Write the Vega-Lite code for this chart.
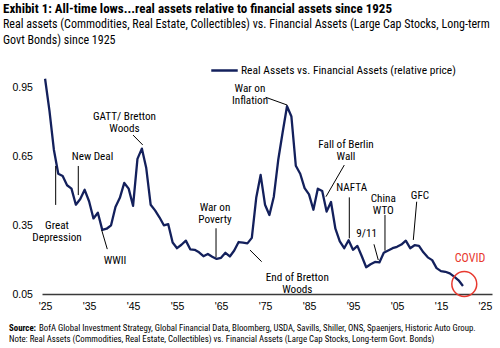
{
  "$schema": "https://vega.github.io/schema/vega-lite/v6.json",
  "width": 450,
  "height": 229,
  "autosize": {"type": "none"},
  "padding": {"left": 42, "top": 65, "right": 8, "bottom": 54},
  "background": "white",
  "config": {
    "view": {"stroke": null},
    "font": "Roboto Condensed, Liberation Sans, sans-serif"
  },
  "title": {
    "text": "Exhibit 1: All-time lows...real assets relative to financial assets since 1925",
    "subtitle": ["Real assets (Commodities, Real Estate, Collectibles) vs. Financial Assets (Large Cap Stocks, Long-term", "Govt Bonds) since 1925"],
    "anchor": "start",
    "frame": "group",
    "dx": -39,
    "offset": 10,
    "font": "Roboto Condensed, Liberation Sans, sans-serif",
    "fontSize": 13,
    "fontWeight": "bold",
    "color": "#000000",
    "subtitleFont": "Roboto Condensed, Liberation Sans, sans-serif",
    "subtitleFontSize": 12,
    "subtitleFontWeight": "normal",
    "subtitleColor": "#000000",
    "subtitleLineHeight": 16,
    "subtitlePadding": 3
  },
  "datasets": {
    "series": [
      {"year": 1925, "value": 0.99}, {"year": 1926, "value": 0.85}, {"year": 1927, "value": 0.68},
      {"year": 1928, "value": 0.575}, {"year": 1929, "value": 0.565}, {"year": 1930, "value": 0.525},
      {"year": 1931, "value": 0.51}, {"year": 1932, "value": 0.44}, {"year": 1933, "value": 0.465},
      {"year": 1934, "value": 0.505}, {"year": 1935, "value": 0.455}, {"year": 1936, "value": 0.38},
      {"year": 1937, "value": 0.405}, {"year": 1938, "value": 0.33}, {"year": 1939, "value": 0.335},
      {"year": 1940, "value": 0.35}, {"year": 1941, "value": 0.43}, {"year": 1942, "value": 0.47},
      {"year": 1943, "value": 0.535}, {"year": 1944, "value": 0.51}, {"year": 1945, "value": 0.435},
      {"year": 1946, "value": 0.64}, {"year": 1947, "value": 0.685}, {"year": 1948, "value": 0.6},
      {"year": 1949, "value": 0.44}, {"year": 1950, "value": 0.415}, {"year": 1951, "value": 0.385},
      {"year": 1952, "value": 0.35}, {"year": 1953, "value": 0.355}, {"year": 1954, "value": 0.275},
      {"year": 1955, "value": 0.25}, {"year": 1956, "value": 0.265}, {"year": 1957, "value": 0.283},
      {"year": 1958, "value": 0.245}, {"year": 1959, "value": 0.243}, {"year": 1960, "value": 0.232},
      {"year": 1961, "value": 0.215}, {"year": 1962, "value": 0.225}, {"year": 1963, "value": 0.213},
      {"year": 1964, "value": 0.203}, {"year": 1965, "value": 0.208}, {"year": 1966, "value": 0.23},
      {"year": 1967, "value": 0.214}, {"year": 1968, "value": 0.24}, {"year": 1969, "value": 0.277},
      {"year": 1970, "value": 0.274}, {"year": 1971, "value": 0.271}, {"year": 1972, "value": 0.295},
      {"year": 1973, "value": 0.47}, {"year": 1974, "value": 0.57}, {"year": 1975, "value": 0.44},
      {"year": 1976, "value": 0.395}, {"year": 1977, "value": 0.475}, {"year": 1978, "value": 0.635},
      {"year": 1979, "value": 0.755}, {"year": 1980, "value": 0.87}, {"year": 1981, "value": 0.825},
      {"year": 1982, "value": 0.61}, {"year": 1983, "value": 0.575}, {"year": 1984, "value": 0.512},
      {"year": 1985, "value": 0.485}, {"year": 1986, "value": 0.418}, {"year": 1987, "value": 0.51},
      {"year": 1988, "value": 0.5}, {"year": 1989, "value": 0.41}, {"year": 1990, "value": 0.452},
      {"year": 1991, "value": 0.335}, {"year": 1992, "value": 0.28}, {"year": 1993, "value": 0.25},
      {"year": 1994, "value": 0.285}, {"year": 1995, "value": 0.243}, {"year": 1996, "value": 0.26},
      {"year": 1997, "value": 0.215}, {"year": 1998, "value": 0.167}, {"year": 1999, "value": 0.18},
      {"year": 2000, "value": 0.19}, {"year": 2001, "value": 0.188}, {"year": 2002, "value": 0.23},
      {"year": 2003, "value": 0.24}, {"year": 2004, "value": 0.25}, {"year": 2005, "value": 0.256},
      {"year": 2006, "value": 0.266}, {"year": 2007, "value": 0.283}, {"year": 2008, "value": 0.25},
      {"year": 2009, "value": 0.263}, {"year": 2010, "value": 0.26}, {"year": 2011, "value": 0.232},
      {"year": 2012, "value": 0.21}, {"year": 2013, "value": 0.198}, {"year": 2014, "value": 0.163},
      {"year": 2015, "value": 0.15}, {"year": 2016, "value": 0.147}, {"year": 2017, "value": 0.14},
      {"year": 2018, "value": 0.126}, {"year": 2019, "value": 0.11}, {"year": 2020, "value": 0.085}
    ],
    "leaders": [
      {"year": 1945.0, "value": 0.744, "year2": 1947.2, "value2": 0.701},
      {"year": 1932.55, "value": 0.609, "year2": 1932.55, "value2": 0.482},
      {"year": 1927.41, "value": 0.609, "year2": 1927.41, "value2": 0.439},
      {"year": 1937.87, "value": 0.329, "year2": 1939.14, "value2": 0.246},
      {"year": 1963.86, "value": 0.337, "year2": 1963.86, "value2": 0.21},
      {"year": 1975.15, "value": 0.909, "year2": 1980.06, "value2": 0.875},
      {"year": 1971.58, "value": 0.242, "year2": 1974.24, "value2": 0.191},
      {"year": 1993.02, "value": 0.613, "year2": 1988.86, "value2": 0.475},
      {"year": 1994.16, "value": 0.472, "year2": 1994.16, "value2": 0.293},
      {"year": 1999.77, "value": 0.267, "year2": 2000.75, "value2": 0.198},
      {"year": 2002.27, "value": 0.395, "year2": 2002.27, "value2": 0.239},
      {"year": 2009.48, "value": 0.453, "year2": 2008.71, "value2": 0.286}
    ],
    "notes": [
      {"label": "GATT/ Bretton\nWoods", "year": 1943.05, "value": 0.825},
      {"label": "New Deal", "year": 1935.78, "value": 0.647},
      {"label": "Great\nDepression", "year": 1927.71, "value": 0.346},
      {"label": "WWII", "year": 1940.9, "value": 0.194},
      {"label": "War on\nPoverty", "year": 1963.63, "value": 0.425},
      {"label": "War on\nInflation", "year": 1971.58, "value": 0.945},
      {"label": "End of Bretton\nWoods", "year": 1982.34, "value": 0.122},
      {"label": "Fall of Berlin\nWall", "year": 1993.41, "value": 0.699},
      {"label": "NAFTA", "year": 1994.7, "value": 0.5116},
      {"label": "9/11", "year": 1998.11, "value": 0.312},
      {"label": "China\nWTO", "year": 2001.89, "value": 0.467},
      {"label": "GFC", "year": 2010.23, "value": 0.479}
    ],
    "covid": [
      {"label": "COVID", "year": 2021.6, "value": 0.2085}
    ],
    "circle": [
      {"year": 2020.3, "value": 0.0937}
    ],
    "sourceLabel": [
      {"label": "Source:", "year": 1922.94, "value": -0.0998}
    ],
    "footnotes": [
      {"label": "BofA Global Investment Strategy, Global Financial Data, Bloomberg, USDA, Savills, Shiller, ONS, Spaenjers, Historic Auto Group.", "year": 1923.62, "value": -0.0998},
      {"label": "Note: Real Assets (Commodities, Real Estate, Collectibles) vs. Financial Assets (Large Cap Stocks, Long-term Govt. Bonds)", "year": 1916.8, "value": -0.1465}
    ]
  },
  "layer": [
    {
      "data": {"name": "series"},
      "mark": {"type": "line", "strokeWidth": 2.3, "strokeJoin": "round"},
      "encoding": {
        "x": {
          "field": "year", "type": "quantitative",
          "scale": {"domain": [1924.3, 2026.6], "nice": false, "zero": false},
          "axis": {
            "title": null, "values": [1925, 1930, 1935, 1940, 1945, 1950, 1955, 1960, 1965, 1970, 1975, 1980, 1985, 1990, 1995, 2000, 2005, 2010, 2015, 2020, 2025],
            "labelExpr": "\"'\" + slice(toString(datum.value), 2)",
            "grid": false, "ticks": false, "domain": true, "domainColor": "#3a3a3a", "domainWidth": 1.5,
            "labelFont": "Liberation Sans, sans-serif",
            "labelFontSize": 10.5, "labelColor": "#000000", "labelPadding": 7, "labelFlush": false
          }
        },
        "y": {
          "field": "value", "type": "quantitative",
          "scale": {"domain": [0.05, 1.05], "nice": false, "zero": false},
          "axis": {
            "title": null, "values": [0.05, 0.35, 0.65, 0.95], "format": ".2f",
            "grid": false, "ticks": false, "tickSize": 0, "domain": false,
            "labelFont": "Liberation Sans, sans-serif",
            "labelAlign": "left", "labelPadding": 30, "labelFontSize": 10.5, "labelColor": "#000000"
          }
        },
        "color": {
          "datum": "Real Assets vs. Financial Assets (relative price)",
          "scale": {"range": ["#13205c"]},
          "legend": {
            "title": null, "orient": "none", "legendX": 168, "legendY": -9,
            "symbolType": "stroke", "symbolSize": 700, "symbolStrokeWidth": 2.5,
            "labelFont": "Roboto Condensed, Liberation Sans, sans-serif",
            "labelFontSize": 11.5, "labelColor": "#000000", "labelOffset": 2, "padding": 0, "labelLimit": 0
          }
        }
      }
    },
    {
      "data": {"name": "leaders"},
      "mark": {"type": "rule", "color": "#000000", "strokeWidth": 1},
      "encoding": {
        "x": {"field": "year", "type": "quantitative"},
        "y": {"field": "value", "type": "quantitative"},
        "x2": {"field": "year2"},
        "y2": {"field": "value2"}
      }
    },
    {
      "data": {"name": "notes"},
      "mark": {"type": "text", "font": "Roboto Condensed, Liberation Sans, sans-serif", "lineBreak": "\n", "fontSize": 11.2, "align": "center", "baseline": "middle", "lineHeight": 12, "color": "#000000"},
      "encoding": {
        "x": {"field": "year", "type": "quantitative"},
        "y": {"field": "value", "type": "quantitative"},
        "text": {"field": "label"}
      }
    },
    {
      "data": {"name": "covid"},
      "mark": {"type": "text", "font": "Roboto Condensed, Liberation Sans, sans-serif", "fontSize": 12, "align": "center", "baseline": "middle", "color": "#e8392f"},
      "encoding": {
        "x": {"field": "year", "type": "quantitative"},
        "y": {"field": "value", "type": "quantitative"},
        "text": {"field": "label"}
      }
    },
    {
      "data": {"name": "circle"},
      "mark": {"type": "point", "shape": "circle", "size": 620, "filled": false, "stroke": "#e8392f", "strokeWidth": 1.5, "opacity": 1},
      "encoding": {
        "x": {"field": "year", "type": "quantitative"},
        "y": {"field": "value", "type": "quantitative"}
      }
    },
    {
      "data": {"name": "sourceLabel"},
      "mark": {"type": "text", "font": "Roboto Condensed, Liberation Sans, sans-serif", "fontSize": 8.8, "fontWeight": "bold", "align": "right", "baseline": "middle", "color": "#000000"},
      "encoding": {
        "x": {"field": "year", "type": "quantitative"},
        "y": {"field": "value", "type": "quantitative"},
        "text": {"field": "label"}
      }
    },
    {
      "data": {"name": "footnotes"},
      "mark": {"type": "text", "font": "Roboto Condensed, Liberation Sans, sans-serif", "fontSize": 8.8, "fontWeight": "normal", "align": "left", "baseline": "middle", "color": "#000000"},
      "encoding": {
        "x": {"field": "year", "type": "quantitative"},
        "y": {"field": "value", "type": "quantitative"},
        "text": {"field": "label"}
      }
    }
  ]
}
